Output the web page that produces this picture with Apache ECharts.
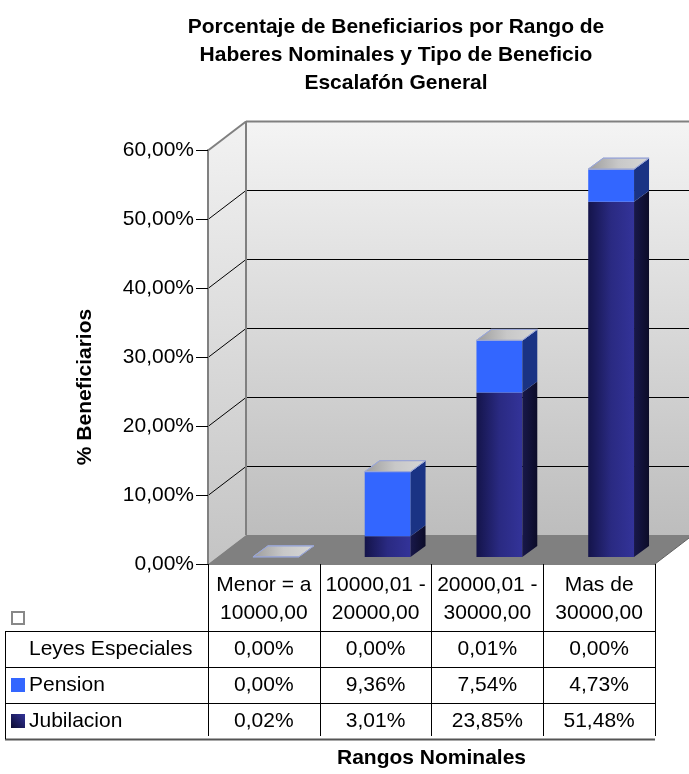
<!DOCTYPE html>
<html><head><meta charset="utf-8">
<script src="https://cdn.jsdelivr.net/npm/echarts@6/dist/echarts.min.js"></script>
<style>html,body{margin:0;padding:0;background:#fff}#c{width:689px;height:774px}</style>
</head><body><div id="c"></div>
<script>
// ---- data ----
const categories = ['Menor = a\n10000,00', '10000,01 -\n20000,00', '20000,01 -\n30000,00', 'Mas de\n30000,00'];
const seriesNames = ['Leyes Especiales', 'Pension', 'Jubilacion'];
const leyes = [0.00, 0.00, 0.01, 0.00];
const pension = [0.00, 9.36, 7.54, 4.73];
const jubilacion = [0.02, 3.01, 23.85, 51.48];
const yTicks = [0, 10, 20, 30, 40, 50, 60];

// ---- style constants ----
const FONT = '"Liberation Sans", Arial, Helvetica, sans-serif';
const FS = 21;
const DX = 38, DY = -29;      // back plane offset
const BX = 12, BY = -7;       // bar front offset from front plane
const BDX = 15, BDY = -11;    // bar depth
const GRID = {left: 208, right: 34, top: 150, bottom: 207};
const TABLE = {left: 5, headerBottom: 631, rowH: 36};

const fmt = v => v.toFixed(2).replace('.', ',') + '%';
const lg = (x0,y0,x1,y1,stops) => new echarts.graphic.LinearGradient(x0,y0,x1,y1,stops.map((c,i)=>({offset:i/(stops.length-1),color:c})));

function renderWalls(params, api) {
  const cs = params.coordSys;
  const x0 = cs.x, x1 = cs.x + cs.width;
  const yb = api.coord([0, yTicks[0]])[1];
  const yt = api.coord([0, yTicks[yTicks.length - 1]])[1];
  const ch = [];
  ch.push({type: 'polygon', shape: {points: [[x0 + DX, yt + DY], [x1 + DX + 30, yt + DY], [x1 + DX + 30, yb + DY], [x0 + DX, yb + DY]]},
    style: {fill: lg(0,0,0,1,['#f4f4f4', '#bdbdbd'])}});
  ch.push({type: 'polygon', shape: {points: [[x0, yt], [x0 + DX, yt + DY], [x0 + DX, yb + DY], [x0, yb]]},
    style: {fill: lg(0,0,0,1,['#f2f2f2', '#c4c4c4'])}});
  ch.push({type: 'polygon', shape: {points: [[x0, yb], [x1, yb], [x1 + DX, yb + DY], [x0 + DX, yb + DY]]},
    style: {fill: '#808080'}});
  yTicks.forEach(v => {
    if (v === yTicks[0]) return;
    const y = Math.round(api.coord([0, v])[1]) + 0.5;
    const top = v === yTicks[yTicks.length - 1];
    const col = top ? '#808080' : '#000';
    const lw = top ? 2 : 1;
    ch.push({type: 'line', shape: {x1: x0, y1: y, x2: x0 + DX, y2: y + DY}, style: {stroke: col, lineWidth: lw}});
    ch.push({type: 'line', shape: {x1: x0 + DX, y1: y + DY, x2: x1 + DX + 30, y2: y + DY}, style: {stroke: col, lineWidth: lw}});
  });
  ch.push({type: 'line', shape: {x1: x0 + DX, y1: yt + DY, x2: x0 + DX, y2: yb + DY}, style: {stroke: '#808080', lineWidth: 2}});
  ch.push({type: 'line', shape: {x1: x1, y1: yb, x2: x1 + DX, y2: yb + DY}, style: {stroke: '#606060', lineWidth: 1}});
  return {type: 'group', children: ch};
}

function barSeries(name, vals, bases, look, isTop) {
  return {
    type: 'custom', name, z: 3, silent: true,
    data: vals.map((v, i) => [i, bases[i], bases[i] + v]),
    renderItem: (params, api) => {
      const i = api.value(0), b = api.value(1), t = api.value(2);
      const band = api.size([1, 0])[0];
      const cx = api.coord([i, 0])[0] + BX;
      const hw = band * 0.205;
      const xl = cx - hw, xr = cx + hw;
      const yb = api.coord([i, b])[1] + BY, yt = api.coord([i, t])[1] + BY;
      const ch = [];
      if (yb - yt > 0.3) {
        ch.push({type: 'rect', shape: {x: xl, y: yt, width: xr - xl, height: yb - yt}, style: {fill: look.front}});
        ch.push({type: 'polygon', shape: {points: [[xr, yt], [xr + BDX, yt + BDY], [xr + BDX, yb + BDY], [xr, yb]]}, style: {fill: look.side}});
      }
      if (isTop) {
        ch.push({type: 'polygon', shape: {points: [[xl, yt], [xr, yt], [xr + BDX, yt + BDY], [xl + BDX, yt + BDY]]},
          style: {fill: lg(0,0,1,0,['#9c9c9c', '#c8c8c8', '#d6d6d6']), stroke: '#9aa6d6', lineWidth: 1}});
      }
      return {type: 'group', children: ch};
    }
  };
}

const base0 = jubilacion.map(() => 0);
const base1 = jubilacion.slice();
const base2 = jubilacion.map((v, i) => v + pension[i]);

const lookJub = {front: lg(0,0,1,0,['#14144a', '#2a2a82', '#333399']), side: lg(0,0,1,0,['#18184a', '#0c0c28'])};
const lookPen = {front: '#3366ff', side: '#1a3384'};
const lookLey = {front: '#e0e0e0', side: '#b0b0b0'};

const chart = echarts.init(document.getElementById('c'), null, {renderer: 'canvas'});
chart.setOption({
  animation: false,
  backgroundColor: '#fff',
  title: {
    text: 'Porcentaje de Beneficiarios por Rango de\nHaberes Nominales y Tipo de Beneficio\nEscalafón General',
    left: 391, top: 8, textAlign: 'center',
    textStyle: {fontFamily: FONT, fontSize: 21, fontWeight: 'bold', lineHeight: 28, color: '#000'}
  },
  grid: GRID,
  xAxis: {
    type: 'category', data: categories, z: 10,
    name: 'Rangos Nominales', nameLocation: 'middle', nameGap: 184,
    nameTextStyle: {fontFamily: FONT, fontSize: 21, fontWeight: 'bold', color: '#000'},
    axisLine: {show: true, lineStyle: {color: '#808080', width: 1}},
    axisTick: {show: true, length: 172, lineStyle: {color: '#000', width: 1}},
    axisLabel: {interval: 0, fontFamily: FONT, fontSize: FS, lineHeight: 28, color: '#000', margin: 7}
  },
  yAxis: {
    type: 'value', min: yTicks[0], max: yTicks[yTicks.length - 1], interval: 10, z: 10,
    axisLine: {show: true, lineStyle: {color: '#808080', width: 2}},
    axisTick: {show: true, length: 12, lineStyle: {color: '#000', width: 1}},
    splitLine: {show: false},
    axisLabel: {fontFamily: FONT, fontSize: FS, color: '#000', margin: 14, formatter: v => fmt(v)}
  },
  series: [
    {type: 'custom', name: 'walls', z: 1, silent: true, data: [[0, 0]], renderItem: renderWalls},
    barSeries(seriesNames[2], jubilacion, base0, lookJub, false),
    barSeries(seriesNames[1], pension, base1, lookPen, false),
    barSeries(seriesNames[0], leyes, base2, lookLey, true)
  ]
});

// ---- data table + y axis name ----
const rows = [
  {name: seriesNames[0], vals: leyes, key: 'empty'},
  {name: seriesNames[1], vals: pension, key: '#3366ff'},
  {name: seriesNames[2], vals: jubilacion, key: lg(0,1,1,0,['#0a0a30', '#333399'])}
];
const g = [];
const gridRight = 689 - GRID.right;
g.push({type: 'text', x: 85, y: 387, rotation: Math.PI / 2,
  style: {text: '% Beneficiarios', font: 'bold 21px ' + FONT, fill: '#000', align: 'center', verticalAlign: 'middle'}});
for (let k = 0; k <= rows.length; k++) {
  const y = TABLE.headerBottom + k * TABLE.rowH + 0.5;
  g.push({type: 'line', shape: {x1: TABLE.left, y1: y, x2: gridRight, y2: y}, style: {stroke: k === rows.length ? '#555' : '#000', lineWidth: k === rows.length ? 2 : 1}});
}
g.push({type: 'line', shape: {x1: TABLE.left + 0.5, y1: TABLE.headerBottom, x2: TABLE.left + 0.5, y2: TABLE.headerBottom + rows.length * TABLE.rowH}, style: {stroke: '#000', lineWidth: 1}});
g.push({type: 'rect', shape: {x: 12, y: 612, width: 12, height: 12}, style: {fill: '#fff', stroke: '#888', lineWidth: 2}});
rows.forEach((r, k) => {
  const cy = TABLE.headerBottom + k * TABLE.rowH + TABLE.rowH / 2;
  if (r.key !== 'empty') {
    g.push({type: 'rect', shape: {x: 11, y: cy - 7, width: 14, height: 14}, style: {fill: r.key}});
  }
  g.push({type: 'text', x: 29, y: cy, style: {text: r.name, font: FS + 'px ' + FONT, fill: '#000', align: 'left', verticalAlign: 'middle'}});
  r.vals.forEach((v, i) => {
    const cx = chart.convertToPixel({xAxisIndex: 0}, i);
    g.push({type: 'text', x: cx, y: cy, style: {text: fmt(v), font: FS + 'px ' + FONT, fill: '#000', align: 'center', verticalAlign: 'middle'}});
  });
});
chart.setOption({graphic: {elements: g}});
</script>
</body></html>
